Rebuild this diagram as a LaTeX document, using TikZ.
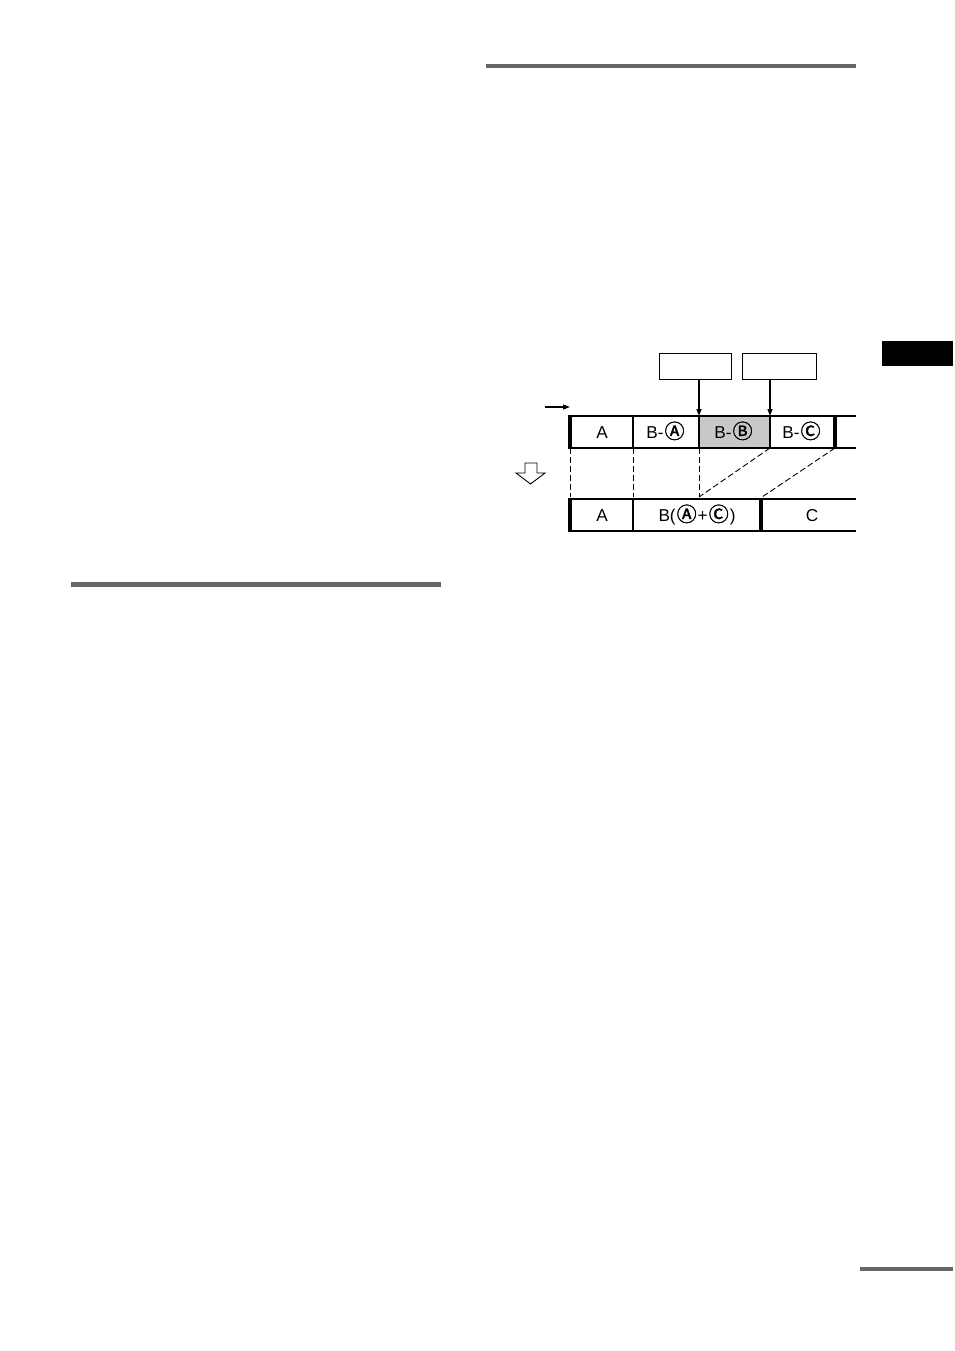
\documentclass[tikz,border=0pt]{standalone}
\usepackage{fontspec}
\setmainfont{Liberation Sans}
\newfontfamily\dv[FakeBold=1.5]{Noto Sans CJK JP}
\usetikzlibrary{arrows.meta}
\definecolor{bargray}{HTML}{666666}
\definecolor{cellgray}{HTML}{C8C8C8}
\tikzset{
  rulebar/.style={fill=bargray, draw=none},
  cell/.style={draw=none, inner sep=0pt, font=\fontsize{17.2}{18}\selectfont},
  labelbox/.style={draw, line width=0.9pt, inner sep=0pt, minimum width=72pt, minimum height=26pt},
  pointer/.style={line width=1.3pt, -{Triangle[length=7pt,width=5pt]}},
  lwthin/.style={line width=1.8pt},
  lwmid/.style={line width=2.6pt},
  lwthick/.style={line width=4.5pt},
  dashline/.style={line width=0.9pt, dash pattern=on 6pt off 3pt},
}
\newcommand{\cir}[1]{{\kern1pt\dv\fontsize{20}{24}\selectfont #1\kern1pt}}
\begin{document}
\begin{tikzpicture}[x=1pt,y=-1pt]
\useasboundingbox (0,0) rectangle (954,1351);
% page rules
\fill[rulebar] (486,64) rectangle (856,68);
\fill[rulebar] (71,582) rectangle (441,587);
\fill[rulebar] (860,1267) rectangle (953,1271);
\fill[black] (882,341) rectangle (953,366);
% label boxes
\node[labelbox] (lb1) at (695,366) {};
\node[labelbox, minimum width=74pt] (lb2) at (779,366) {};
% top strip coordinates
\coordinate (t0) at (570,416); \coordinate (b0) at (570,448);
\coordinate (t1) at (633,416); \coordinate (b1) at (633,448);
\coordinate (t2) at (699,416); \coordinate (b2) at (699,448);
\coordinate (t3) at (770,416); \coordinate (b3) at (770,448);
\coordinate (t4) at (835,416); \coordinate (b4) at (835,448);
\coordinate (tE) at (856,416); \coordinate (bE) at (856,448);
% gray cell
\fill[cellgray] (t2) rectangle (b3);
\draw[lwthin] (t0) -- (tE);
\draw[lwthin] (b0) -- (bE);
\draw[lwthick] (570,415) -- (570,449);
\draw[lwmid] (t1) -- (b1);
\draw[lwmid] (t2) -- (b2);
\draw[lwthin] (t3) -- (b3);
\draw[lwthick] (835,415) -- (835,449);
\node[cell, anchor=base] (cA) at (602,438.5) {A};
\node[cell, anchor=base] (cBA) at (666,438.5) {B-\cir{Ⓐ}};
\node[cell, anchor=base] (cBB) at (734,438.5) {B-\cir{Ⓑ}};
\node[cell, anchor=base] (cBC) at (802,438.5) {B-\cir{Ⓒ}};
% pointers
\draw[pointer] (lb1.south -| t2) -- (t2);
\draw[pointer] (lb2.south -| t3) -- (t3);
% small direction arrow
\coordinate (sa) at (545,407);
\coordinate (sb) at (570,407);
\draw[pointer, line width=1.2pt] (sa) -- (sb);
% hollow down arrow
\draw[line width=0.9pt, fill=white] (525,463) -- (537,463) -- (537,473) -- (545,473) -- (530.5,484) -- (516,473) -- (525,473) -- cycle;
% bottom strip coordinates
\coordinate (u0) at (570,499); \coordinate (v0) at (570,531);
\coordinate (u1) at (633,499); \coordinate (v1) at (633,531);
\coordinate (u2) at (761,499); \coordinate (v2) at (761,531);
\coordinate (uE) at (856,499); \coordinate (vE) at (856,531);
\draw[lwthin] (u0) -- (uE);
\draw[lwthin] (v0) -- (vE);
\draw[lwthick] (570,498) -- (570,532);
\draw[lwmid] (u1) -- (v1);
\draw[lwthick] (761,498) -- (761,532);
\node[cell, anchor=base] (dA) at (602,521.5) {A};
\node[cell, anchor=base] (dB) at (697,521.5) {B(\cir{Ⓐ}+\cir{Ⓒ})};
\node[cell, anchor=base] (dC) at (812,521.5) {C};
% dashed connectors
\draw[dashline] (b0) -- (570,497);
\draw[dashline] (b1) -- (633,497);
\draw[dashline] (b2) -- (699,497);
\draw[dashline] (b3) -- (699,497);
\draw[dashline] (b4) -- (762,497);
\end{tikzpicture}
\end{document}
